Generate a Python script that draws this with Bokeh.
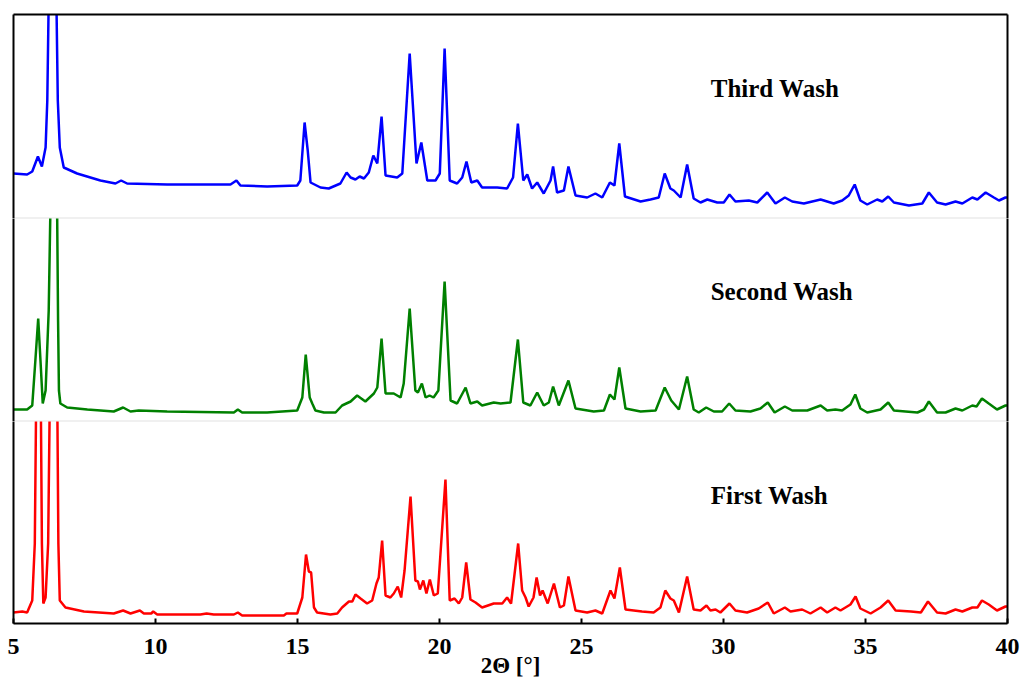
from bokeh.plotting import figure
from bokeh.layouts import column
from bokeh.models import Range1d, Label, FixedTicker, LinearAxis
from bokeh.embed import file_html
from bokeh.resources import INLINE

# ---- data ----
tick_values = [5, 10, 15, 20, 25, 30, 35, 40]
tick_labels = ["5", "10", "15", "20", "25", "30", "35", "40"]
x_label = "2\u0398 [\u00b0]"
panel_names = ["Third Wash", "Second Wash", "First Wash"]

third_x = [5.00, 5.48, 5.66, 5.86, 6.00, 6.13, 6.19, 6.25, 6.38, 6.50, 6.56, 6.63, 6.77, 7.24, 8.06, 8.59, 8.79, 9.00,
           10.41, 12.64, 12.85, 12.99, 13.93, 14.99, 15.10, 15.25, 15.36, 15.46, 15.81, 16.10, 16.51, 16.73, 16.87,
           17.04, 17.19, 17.34, 17.51, 17.67, 17.81, 17.96, 18.10, 18.51, 18.69, 18.95, 19.19, 19.36, 19.57, 19.86,
           20.01, 20.18, 20.36, 20.62, 20.80, 20.95, 21.12, 21.33, 21.50, 22.03, 22.38, 22.59, 22.76, 22.95, 23.09,
           23.26, 23.44, 23.67, 23.91, 24.00, 24.14, 24.38, 24.54, 24.79, 25.20, 25.49, 25.73, 26.00, 26.16, 26.33,
           26.53, 27.08, 27.43, 27.72, 27.93, 28.13, 28.25, 28.49, 28.72, 28.95, 29.19, 29.43, 29.78, 30.01, 30.21,
           30.42, 30.89, 31.19, 31.54, 31.83, 32.16, 32.42, 32.83, 33.42, 33.88, 34.18, 34.41, 34.62, 34.82, 35.06,
           35.41, 35.59, 35.80, 36.00, 36.53, 37.00, 37.23, 37.52, 37.82, 38.17, 38.41, 38.76, 38.94, 39.23, 39.52,
           39.70, 39.93, 40.00]
third_y = [45, 44, 47, 62, 52, 71, 118, 240, 700, 240, 118, 71, 51, 45, 38, 35, 38, 35,
           34, 34, 38, 33, 32, 33, 38, 96, 68, 36, 31, 30, 35, 46, 41,
           39, 42, 40, 46, 63, 55, 102, 43, 41, 45, 165, 55, 76, 38, 38,
           45, 170, 38, 35, 41, 57, 36, 38, 31, 31, 30, 41, 95, 38, 44,
           30, 36, 25, 38, 52, 26, 28, 52, 23, 21, 25, 21, 36, 33, 75,
           22, 17, 19, 21, 45, 30, 28, 21, 54, 20, 16, 19, 16, 16, 24,
           17, 18, 16, 26, 15, 21, 17, 15, 19, 15, 18, 23, 34, 18, 14,
           19, 17, 22, 16, 13, 15, 26, 16, 14, 17, 15, 21, 19, 26, 21,
           18, 21, 21]

second_x = [5.00, 5.48, 5.66, 5.77, 5.87, 5.95, 6.03, 6.13, 6.24, 6.31, 6.42, 6.53, 6.57, 6.60, 6.65, 6.89, 7.60,
            8.53, 8.86, 9.12, 9.41, 10.41, 12.76, 12.90, 13.05, 13.93, 14.99, 15.17, 15.29, 15.43, 15.52, 15.63,
            15.93, 16.16, 16.34, 16.57, 16.87, 17.10, 17.39, 17.69, 17.81, 17.96, 18.10, 18.39, 18.63, 18.74, 18.95,
            19.15, 19.24, 19.38, 19.51, 19.65, 19.79, 19.96, 20.18, 20.39, 20.62, 20.92, 21.09, 21.33, 21.50, 21.91,
            22.15, 22.50, 22.76, 22.95, 23.20, 23.44, 23.67, 23.85, 24.00, 24.20, 24.54, 24.79, 25.43, 25.79, 26.00,
            26.16, 26.33, 26.55, 27.08, 27.61, 27.93, 28.16, 28.43, 28.72, 28.95, 29.13, 29.39, 29.66, 29.95, 30.20,
            30.42, 30.95, 31.30, 31.56, 31.80, 32.16, 32.42, 32.95, 33.42, 33.65, 33.94, 34.18, 34.47, 34.64, 34.82,
            35.06, 35.53, 35.80, 36.00, 36.41, 36.83, 37.06, 37.23, 37.52, 37.82, 38.17, 38.41, 38.76, 38.91, 39.10,
            39.34, 39.63, 39.93, 40.00]
second_y = [12, 12, 16, 61, 103, 61, 18, 31, 111, 230, 700, 230, 100, 31, 18, 14, 12,
            10, 14, 10, 11, 10, 9, 12, 9, 9, 11, 24, 67, 24, 18, 11,
            9, 9, 9, 16, 20, 26, 20, 28, 34, 83, 28, 28, 24, 38, 113,
            31, 29, 38, 24, 26, 24, 31, 140, 21, 18, 34, 18, 20, 16, 19,
            18, 19, 82, 19, 16, 29, 16, 19, 35, 16, 41, 13, 10, 11, 27,
            22, 54, 13, 10, 11, 34, 21, 12, 45, 12, 9, 14, 10, 10, 18,
            11, 10, 13, 19, 9, 15, 11, 11, 16, 11, 12, 11, 17, 27, 13,
            9, 12, 19, 11, 10, 9, 12, 20, 9, 9, 13, 11, 16, 15, 23,
            18, 12, 16, 16]

first_x = [5.00, 5.31, 5.48, 5.66, 5.75, 5.80, 5.88, 5.96, 6.00, 6.05, 6.13, 6.22, 6.28, 6.42, 6.54, 6.58, 6.63,
           6.83, 7.48, 8.53, 8.86, 9.12, 9.45, 9.59, 9.85, 9.92, 10.06, 11.58, 11.80, 12.05, 12.76, 12.90, 13.05,
           14.52, 14.61, 14.99, 15.17, 15.30, 15.40, 15.48, 15.58, 15.69, 16.16, 16.40, 16.57, 16.81, 16.93, 17.04,
           17.22, 17.45, 17.63, 17.78, 17.86, 17.98, 18.10, 18.27, 18.39, 18.53, 18.65, 18.77, 18.98, 19.15, 19.24,
           19.31, 19.43, 19.54, 19.66, 19.80, 19.94, 20.21, 20.36, 20.53, 20.68, 20.80, 20.94, 21.09, 21.27, 21.50,
           21.91, 22.21, 22.38, 22.52, 22.77, 22.91, 23.03, 23.14, 23.31, 23.42, 23.54, 23.63, 23.81, 24.03, 24.24,
           24.38, 24.54, 24.79, 25.20, 25.49, 25.73, 26.02, 26.16, 26.35, 26.55, 27.13, 27.54, 27.78, 27.95, 28.13,
           28.25, 28.43, 28.72, 28.95, 29.19, 29.40, 29.54, 29.72, 29.89, 30.21, 30.42, 30.83, 31.24, 31.56, 31.77,
           32.16, 32.36, 32.77, 33.06, 33.42, 33.65, 33.94, 34.12, 34.47, 34.65, 34.82, 35.18, 35.53, 35.80, 36.06,
           36.60, 36.95, 37.20, 37.52, 37.82, 38.17, 38.41, 38.76, 38.94, 39.10, 39.34, 39.63, 39.93, 40.00]
first_y = [11, 12, 11, 23, 80, 230, 600, 230, 80, 20, 26, 80, 230, 700, 230, 80, 23,
           16, 12, 10, 13, 10, 13, 10, 10, 12, 9, 9, 10, 9, 9, 11, 8,
           8, 10, 10, 26, 69, 52, 51, 16, 11, 9, 10, 16, 22, 22, 29,
           25, 20, 23, 40, 46, 83, 28, 26, 30, 37, 26, 53, 127, 43, 42,
           34, 43, 30, 44, 28, 30, 144, 23, 25, 20, 26, 61, 24, 21, 16,
           20, 20, 26, 20, 80, 33, 26, 17, 26, 46, 28, 33, 20, 40, 16,
           18, 47, 13, 11, 13, 10, 33, 25, 56, 14, 12, 11, 16, 33, 25,
           23, 11, 47, 14, 13, 18, 13, 14, 11, 20, 13, 11, 15, 21, 10,
           16, 12, 14, 10, 16, 11, 16, 13, 19, 27, 15, 10, 16, 23, 13,
           12, 11, 22, 11, 10, 14, 12, 16, 16, 23, 19, 13, 17, 17]

series = [(third_x, third_y, "#0000ff"), (second_x, second_y, "#008000"), (first_x, first_y, "#ff0000")]

# ---- layout ----
FRAME_W = 994
frame_heights = [204, 203, 202]
label_y = [130, 130, 128]
SERIF = "Liberation Serif"


def border_axis():
    return LinearAxis(ticker=FixedTicker(ticks=[]), major_tick_out=0, major_tick_in=0,
                      minor_tick_out=0, minor_tick_in=0, major_label_standoff=0,
                      major_label_text_font_size="0px", axis_line_color="black",
                      axis_line_width=2)


def make_panel(i):
    xs, ys, color = series[i]
    bottom = (i == 2)
    p = figure(frame_width=FRAME_W, frame_height=frame_heights[i],
               x_range=Range1d(tick_values[0], tick_values[-1]),
               y_range=Range1d(0, frame_heights[i]),
               output_backend="svg", toolbar_location=None,
               min_border_left=13, min_border_right=14,
               min_border_top=14 if i == 0 else 0, min_border_bottom=0,
               y_axis_location=None,
               x_axis_location="below" if bottom else None)
    p.grid.visible = False
    p.outline_line_color = "#f0f0f0"
    p.outline_line_width = 1
    p.background_fill_color = "white"
    p.border_fill_color = "white"
    p.line(xs, ys, line_color=color, line_width=2.5)
    p.add_layout(border_axis(), "left")
    p.add_layout(border_axis(), "right")
    if i == 0:
        p.add_layout(border_axis(), "above")
    p.add_layout(Label(x=29.55, y=label_y[i], text=panel_names[i], text_font=SERIF,
                       text_font_style="bold", text_font_size="25px",
                       text_color="black", text_baseline="alphabetic"))
    if bottom:
        ax = p.xaxis[0]
        ax.ticker = FixedTicker(ticks=tick_values)
        ax.major_label_overrides = {v: t for v, t in zip(tick_values, tick_labels)}
        ax.axis_line_color = "black"
        ax.axis_line_width = 2
        ax.major_tick_in = 5
        ax.major_tick_out = 0
        ax.major_tick_line_width = 2
        ax.major_tick_line_color = "black"
        ax.minor_tick_line_color = None
        ax.major_label_text_font = SERIF
        ax.major_label_text_font_style = "bold"
        ax.major_label_text_font_size = "24px"
        ax.major_label_text_color = "black"
        ax.major_label_standoff = 15
        ax.axis_label = x_label
        ax.axis_label_text_font = SERIF
        ax.axis_label_text_font_style = "bold"
        ax.axis_label_text_font_size = "23px"
        ax.axis_label_text_color = "black"
        ax.axis_label_standoff = -4
    return p


panels = [make_panel(i) for i in range(3)]
layout = column(*panels, spacing=0)
open("out.html", "w").write(file_html(layout, INLINE))
